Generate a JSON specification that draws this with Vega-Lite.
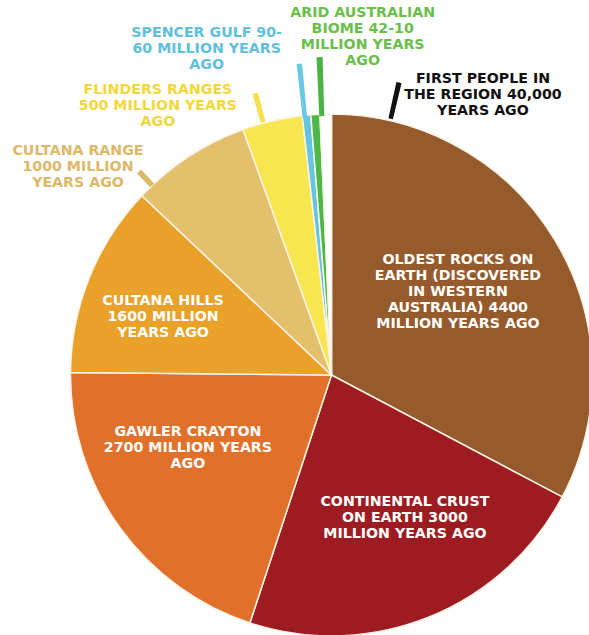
{
  "$schema": "https://vega.github.io/schema/vega-lite/v6.json",
  "width": 515,
  "height": 520,
  "autosize": {"type": "none"},
  "padding": {"left": 74, "top": 115, "right": 0, "bottom": 0},
  "background": "white",
  "config": {"view": {"stroke": null}},
  "data": {
    "values": [
      {"i": 1, "name": "Oldest rocks on Earth", "size": 4400, "label": "OLDEST ROCKS ON\nEARTH (DISCOVERED\nIN WESTERN\nAUSTRALIA) 4400\nMILLION YEARS AGO"},
      {"i": 2, "name": "Continental crust", "size": 3000, "label": "CONTINENTAL CRUST\nON EARTH 3000\nMILLION YEARS AGO"},
      {"i": 3, "name": "Gawler Crayton", "size": 2700, "label": "GAWLER CRAYTON\n2700 MILLION YEARS\nAGO"},
      {"i": 4, "name": "Cultana Hills", "size": 1600, "label": "CULTANA HILLS\n1600 MILLION\nYEARS AGO"},
      {"i": 5, "name": "Cultana Range", "size": 1000, "label": "CULTANA RANGE\n1000 MILLION\nYEARS AGO"},
      {"i": 6, "name": "Flinders Ranges", "size": 500, "label": "FLINDERS RANGES\n500 MILLION YEARS\nAGO"},
      {"i": 7, "name": "Spencer Gulf", "size": 70, "label": "SPENCER GULF 90-\n60 MILLION YEARS\nAGO"},
      {"i": 8, "name": "Arid Australian Biome", "size": 75, "label": "ARID AUSTRALIAN\nBIOME 42-10\nMILLION YEARS\nAGO"},
      {"i": 9, "name": "First people in the region", "size": 95, "label": "FIRST PEOPLE IN\nTHE REGION 40,000\nYEARS AGO"}
    ]
  },
  "encoding": {
    "theta": {"field": "size", "type": "quantitative", "stack": true},
    "order": {"field": "i", "type": "quantitative"},
    "detail": {"field": "name", "type": "nominal"}
  },
  "layer": [
    {
      "mark": {"type": "arc", "outerRadius": 261, "stroke": "#FBF4E6", "strokeWidth": 1.5},
      "encoding": {
        "color": {
          "field": "name", "type": "nominal", "legend": null,
          "scale": {
            "domain": ["Oldest rocks on Earth", "Continental crust", "Gawler Crayton", "Cultana Hills", "Cultana Range", "Flinders Ranges", "Spencer Gulf", "Arid Australian Biome", "First people in the region"],
            "range": ["#955B2C", "#9E1C21", "#E1712A", "#E9A12A", "#E4BF6C", "#F8E650", "#64C5E0", "#4DB748", "#FFFFFF"]
          }
        }
      }
    },
    {
      "transform": [{"stack": "size", "groupby": [], "sort": [{"field": "i"}], "as": ["v0", "v1"]}],
      "mark": {"type": "arc", "innerRadius": 261, "outerRadius": 280, "thetaOffset": 0.0455, "theta2Offset": -0.401, "color": "#DDBA6B"},
      "encoding": {
        "theta": {"field": "v0", "type": "quantitative", "stack": null},
        "theta2": {"field": "v1"},
        "opacity": {"condition": {"test": "datum.i === 5", "value": 1}, "value": 0}
      }
    },
    {
      "transform": [{"stack": "size", "groupby": [], "sort": [{"field": "i"}], "as": ["v0", "v1"]}],
      "mark": {"type": "arc", "innerRadius": 262, "outerRadius": 292, "thetaOffset": 0.0719, "theta2Offset": -0.1426, "color": "#F4E14F"},
      "encoding": {
        "theta": {"field": "v0", "type": "quantitative", "stack": null},
        "theta2": {"field": "v1"},
        "opacity": {"condition": {"test": "datum.i === 6", "value": 1}, "value": 0}
      }
    },
    {
      "transform": [{"stack": "size", "groupby": [], "sort": [{"field": "i"}], "as": ["v0", "v1"]}],
      "mark": {"type": "arc", "innerRadius": 258, "outerRadius": 313, "thetaOffset": 0.0005, "theta2Offset": -0.0148, "color": "#6BC8E2"},
      "encoding": {
        "theta": {"field": "v0", "type": "quantitative", "stack": null},
        "theta2": {"field": "v1"},
        "opacity": {"condition": {"test": "datum.i === 7", "value": 1}, "value": 0}
      }
    },
    {
      "transform": [{"stack": "size", "groupby": [], "sort": [{"field": "i"}], "as": ["v0", "v1"]}],
      "mark": {"type": "arc", "innerRadius": 259, "outerRadius": 318, "thetaOffset": 0.0324, "theta2Offset": 0.0165, "color": "#4BB343"},
      "encoding": {
        "theta": {"field": "v0", "type": "quantitative", "stack": null},
        "theta2": {"field": "v1"},
        "opacity": {"condition": {"test": "datum.i === 8", "value": 1}, "value": 0}
      }
    },
    {
      "transform": [{"stack": "size", "groupby": [], "sort": [{"field": "i"}], "as": ["v0", "v1"]}],
      "mark": {"type": "arc", "innerRadius": 263, "outerRadius": 300, "thetaOffset": 0.2626, "theta2Offset": 0.2356, "color": "#111111"},
      "encoding": {
        "theta": {"field": "v0", "type": "quantitative", "stack": null},
        "theta2": {"field": "v1"},
        "opacity": {"condition": {"test": "datum.i === 9", "value": 1}, "value": 0}
      }
    },
    {
      "mark": {"type": "text", "radius": 151.5, "thetaOffset": -0.041, "dy": -32, "font": "DejaVu Sans", "fontWeight": "bold", "fontSize": 14.2, "lineHeight": 16, "lineBreak": "\n", "align": "center", "baseline": "middle", "color": "#FFFFFF"},
      "encoding": {"text": {"condition": {"test": "datum.i === 1", "field": "label", "type": "nominal"}, "value": ""}}
    },
    {
      "mark": {"type": "text", "radius": 160.8, "thetaOffset": -0.091, "dy": -16, "font": "DejaVu Sans", "fontWeight": "bold", "fontSize": 14.2, "lineHeight": 16, "lineBreak": "\n", "align": "center", "baseline": "middle", "color": "#FFFFFF"},
      "encoding": {"text": {"condition": {"test": "datum.i === 2", "field": "label", "type": "nominal"}, "value": ""}}
    },
    {
      "mark": {"type": "text", "radius": 161, "thetaOffset": 0.152, "dy": -16, "font": "DejaVu Sans", "fontWeight": "bold", "fontSize": 14.2, "lineHeight": 16, "lineBreak": "\n", "align": "center", "baseline": "middle", "color": "#FFFFFF"},
      "encoding": {"text": {"condition": {"test": "datum.i === 3", "field": "label", "type": "nominal"}, "value": ""}}
    },
    {
      "mark": {"type": "text", "radius": 178.2, "thetaOffset": -0.051, "dy": -16, "font": "DejaVu Sans", "fontWeight": "bold", "fontSize": 14.2, "lineHeight": 16, "lineBreak": "\n", "align": "center", "baseline": "middle", "color": "#FFFFFF"},
      "encoding": {"text": {"condition": {"test": "datum.i === 4", "field": "label", "type": "nominal"}, "value": ""}}
    },
    {
      "mark": {"type": "text", "radius": 327.9, "thetaOffset": -0.304, "dy": -16, "font": "DejaVu Sans", "fontWeight": "bold", "fontSize": 14.2, "lineHeight": 16, "lineBreak": "\n", "align": "center", "baseline": "middle", "color": "#DDB869"},
      "encoding": {"text": {"condition": {"test": "datum.i === 5", "field": "label", "type": "nominal"}, "value": ""}}
    },
    {
      "mark": {"type": "text", "radius": 320.1, "thetaOffset": -0.344, "dy": -16, "font": "DejaVu Sans", "fontWeight": "bold", "fontSize": 14.2, "lineHeight": 16, "lineBreak": "\n", "align": "center", "baseline": "middle", "color": "#F3D73A"},
      "encoding": {"text": {"condition": {"test": "datum.i === 6", "field": "label", "type": "nominal"}, "value": ""}}
    },
    {
      "mark": {"type": "text", "radius": 349, "thetaOffset": -0.27, "dy": -16, "font": "DejaVu Sans", "fontWeight": "bold", "fontSize": 14.2, "lineHeight": 16, "lineBreak": "\n", "align": "center", "baseline": "middle", "color": "#5FC0DD"},
      "encoding": {"text": {"condition": {"test": "datum.i === 7", "field": "label", "type": "nominal"}, "value": ""}}
    },
    {
      "mark": {"type": "text", "radius": 339.5, "thetaOffset": 0.154, "dy": -24, "font": "DejaVu Sans", "fontWeight": "bold", "fontSize": 14.2, "lineHeight": 16, "lineBreak": "\n", "align": "center", "baseline": "middle", "color": "#6ABF4B"},
      "encoding": {"text": {"condition": {"test": "datum.i === 8", "field": "label", "type": "nominal"}, "value": ""}}
    },
    {
      "mark": {"type": "text", "radius": 318.4, "thetaOffset": 0.518, "dy": -16, "font": "DejaVu Sans", "fontWeight": "bold", "fontSize": 14.2, "lineHeight": 16, "lineBreak": "\n", "align": "center", "baseline": "middle", "color": "#111111"},
      "encoding": {"text": {"condition": {"test": "datum.i === 9", "field": "label", "type": "nominal"}, "value": ""}}
    }
  ]
}
